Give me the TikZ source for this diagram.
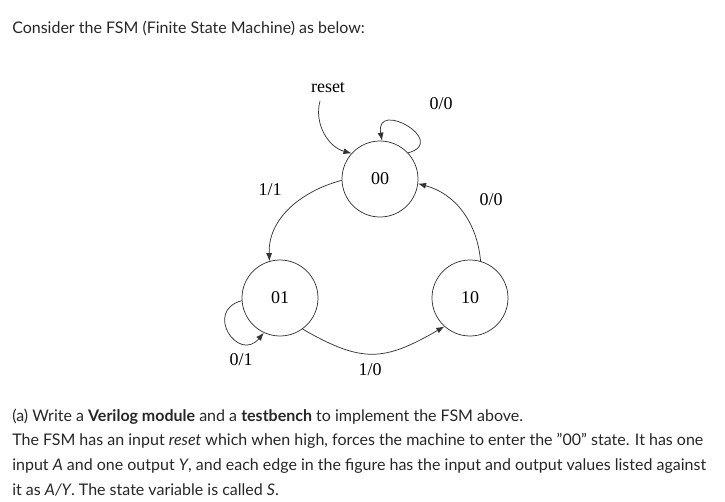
\documentclass[tikz,border=0pt]{standalone}
\usepackage{fontspec}
\setmainfont{Lato}
\newfontfamily\fsmfont{Liberation Serif}
\usetikzlibrary{arrows.meta}
\begin{document}
\begin{tikzpicture}[x=0.75pt,y=0.75pt,
  fsmstate/.style={draw=black!80,circle,minimum size=57pt,inner sep=0pt,line width=0.55pt,font=\fsmfont\fontsize{13.5}{15}\selectfont},
  edge/.style={-{Latex[length=6pt,width=4.5pt]},line width=0.55pt,draw=black!80},
  lbl/.style={font=\fsmfont\fontsize{13.5}{15}\selectfont,inner sep=0pt},
  txt/.style={anchor=west,inner sep=0pt,font=\fontsize{12}{14}\selectfont,text=black!85}]
\useasboundingbox (0,0) rectangle (725,501);
\node[txt] (title) at (12,473) {Consider the FSM (Finite State Machine) as below:};
% states
\node[fsmstate] (s00) at (380,322) {00};
\node[fsmstate] (s01) at (280,203) {01};
\node[fsmstate] (s10) at (470,203) {10};
\coordinate (rst) at (320,400);
\node[lbl] (lrst) at (328,413) {reset};
% transitions
\draw[edge] (rst) to[out=-105,in=165] (s00.138);
\draw[edge] (s00.43) to[out=15,in=100,looseness=3.8] (s00.87);
\draw[edge] (s00.182) to[out=195,in=92] (s01.106);
\draw[edge] (s10.74) to[out=95,in=-15] (s00.-7);
\draw[edge] (s01.184) to[out=195,in=230,looseness=2.6] (s01.245);
\draw[edge] (s01.-54) to[out=-30,in=210,looseness=1.25] (s10.228);
\node[lbl] (l00a) at (441,397) {0/0};
\node[lbl] (l11) at (270,311) {1/1};
\node[lbl] (l00b) at (491,301) {0/0};
\node[lbl] (l01) at (241,141) {0/1};
\node[lbl] (l10) at (370,131) {1/0};
% question text
\node[txt] (q1) at (12,84) {(a) Write a \textbf{Verilog module} and a \textbf{testbench} to implement the FSM above.};
\node[txt] (q2) at (12,60) {The FSM has an input \textit{reset} which when high, forces the machine to enter the "00" state. It has one};
\node[txt] (q3) at (12,35) {input \textit{A} and one output \textit{Y}, and each edge in the figure has the input and output values listed against};
\node[txt] (q4) at (12,11) {it as \textit{A/Y}. The state variable is called \textit{S}.};
\end{tikzpicture}
\end{document}
